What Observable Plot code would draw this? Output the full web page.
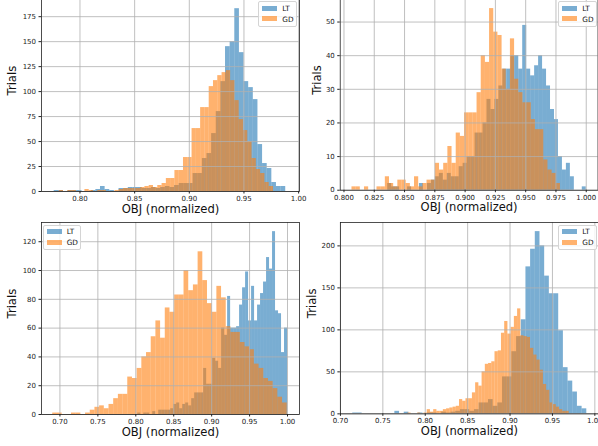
<!DOCTYPE html>
<html>
<head>
<meta charset="utf-8">
<script src="https://cdn.jsdelivr.net/npm/d3@7"></script>
<script src="https://cdn.jsdelivr.net/npm/@observablehq/plot@0.6"></script>
<style>
  body { margin: 0; background: #fff; }
  #fig { position: relative; width: 598px; height: 446px; overflow: hidden; font-family: "DejaVu Sans", sans-serif; }
  .panel { position: absolute; }
  .panel svg { overflow: visible; }
  .legend { position: absolute; box-sizing: border-box; width: 38.5px; height: 25.7px;
            background: rgba(255,255,255,0.8); border: 1px solid #d4d4d4; border-radius: 2px; }
  .legend .sw { position: absolute; left: 3px; width: 15px; height: 5.2px; }
  .legend .lb { position: absolute; left: 23px; font-size: 7.3px; line-height: 7px; color: #111; }
</style>
</head>
<body>
<div id="fig"></div>
<script>
// Series shown in every panel
const seriesNames = ["LT", "GD"];
const seriesColors = ["#1f77b4", "#ff7f0e"];
const xLabel = "OBJ (normalized)";
const yLabel = "Trials";

// Top-left panel: 50-bin histograms
const tlLtRange = [0.7764, 0.9882];
const tlLt = [1,1,0,1,1,1,0,0,1,2, 5,2,1,0,3,3,4,4,4,3, 3,4,3,4,5,4,6,8,8,8,
              18,18,33,38,58,80,110,145,150,183, 139,110,104,92,47,28,23,9,5,5];
const tlGdRange = [0.781, 0.977];
const tlGd = [1,0,1,1,0,0,2,1,0,1, 1,0,0,1,2,3,3,3,3,4, 5,6,4,6,8,13,13,21,21,34,
              34,63,63,84,84,105,111,116,119,121, 111,91,72,61,50,33,22,18,9,5];
const tlXTicks = [0.80, 0.85, 0.90, 0.95, 1.00];
const tlYTicks = [0, 25, 50, 75, 100, 125, 150, 175];

// Top-right panel
const trLtRange = [0.8361, 1.0];
const trLt = [2,1,1,0,0,1,0,0,2,0, 2,3,4,5,3,5,4,4,7,8, 10,10,17,17,20,27,24,27,31,36,
              36,40,40,36,49,36,34,37,40,36, 31,24,21,10,6,8,4,0,0,1];
const trGdRange = [0.8066, 0.9787];
const trGd = [1,1,0,1,0,0,1,1,4,2, 1,3,3,2,1,4,1,2,3,3, 8,6,8,13,8,17,16,23,23,23,
              29,40,38,54,47,46,36,30,45,33, 29,26,26,21,18,18,9,6,5,2];
const trXTicks = [0.800, 0.825, 0.850, 0.875, 0.900, 0.925, 0.950, 0.975, 1.000];
const trYTicks = [0, 10, 20, 30, 40, 50];

// Bottom-left panel
const blLtRange = [0.8026, 1.0];
const blLt = [1,0,1,1,0,2,0,3,3,3, 3,4,7,8,4,7,8,6,11,15, 15,15,32,21,21,39,37,32,60,55,
              82,60,60,61,76,88,99,65,89,65, 76,84,92,109,101,127,72,70,43,60];
const blGdRange = [0.6905, 0.9996];
const blGd = [1,1,0,0,1,1,0,1,3,5, 6,4,7,11,14,14,26,25,32,40, 43,54,65,53,74,71,83,83,100,86,
              90,113,93,77,71,89,81,61,57,57, 50,47,45,35,32,25,23,18,12,8];
const blXTicks = [0.70, 0.75, 0.80, 0.85, 0.90, 0.95, 1.00];
const blYTicks = [0, 20, 40, 60, 80, 100, 120];

// Bottom-right panel
const brLtRange = [0.7145, 0.9905];
const brLt = [1,1,0,0,0,0,0,0,0,3, 0,2,0,0,1,0,1,1,0,2, 1,2,3,5,5,3,5,13,13,17,
              9,13,44,44,74,92,112,175,196,217, 200,164,143,143,99,55,39,26,9,6];
const brGdRange = [0.7795, 0.9698];
const brGd = [1,0,0,1,0,1,5,2,5,3, 3,5,6,7,8,9,17,15,18,18, 25,37,33,50,59,60,62,74,75,96,
              110,95,103,116,125,93,92,91,78,70, 64,52,35,28,13,11,8,5,3,3];
const brXTicks = [0.70, 0.75, 0.80, 0.85, 0.90, 0.95, 1.00];
const brYTicks = [0, 50, 100, 150, 200];

// Panel layout (pixels) and scale settings
const panels = [
  {lt: tlLt, ltRange: tlLtRange, gd: tlGd, gdRange: tlGdRange, xTicks: tlXTicks, yTicks: tlYTicks,
   xDomain: [0.7648, 1.0008], yMax: 192.2, xFormat: ".2f",
   left: 0, top: -1, width: 300, marginLeft: 41, marginRight: 1, yLabelDx: -29,
   legend: {left: 258.3, top: 1}},
  {lt: trLt, ltRange: trLtRange, gd: trGd, gdRange: trGdRange, xTicks: trXTicks, yTicks: trYTicks,
   xDomain: [0.7969, 1.0097], yMax: 56.7, xFormat: ".3f",
   left: 298, top: -1, width: 302, marginLeft: 42, marginRight: 0.5, yLabelDx: -23,
   legend: {left: 558.3, top: 1}},
  {lt: blLt, ltRange: blLtRange, gd: blGd, gdRange: blGdRange, xTicks: blXTicks, yTicks: blYTicks,
   xDomain: [0.6757, 1.0158], yMax: 133.35, xFormat: ".2f",
   left: 0, top: 222, width: 300, marginLeft: 41, marginRight: 1, yLabelDx: -29,
   legend: {left: 42.7, top: 224.7}},
  {lt: brLt, ltRange: brLtRange, gd: brGd, gdRange: brGdRange, xTicks: brXTicks, yTicks: brYTicks,
   xDomain: [0.6999, 1.0043], yMax: 227.85, xFormat: ".2f",
   left: 298, top: 222, width: 301, marginLeft: 42, marginRight: 0, yLabelDx: -28,
   legend: {left: 558.3, top: 224.7}}
];

// Equal-width bins spanning a series' [min, max]
function toBins(counts, [lo, hi]) {
  const w = (hi - lo) / counts.length;
  return counts.map((c, i) => ({x1: lo + i * w, x2: lo + (i + 1) * w, y1: 0, y2: c}));
}

const fig = document.getElementById("fig");
const plotHeight = 192;

for (const p of panels) {
  const inX = p.xTicks.filter(t => t >= p.xDomain[0] - 1e-9 && t <= p.xDomain[1] + 1e-9);
  const chart = Plot.plot({
    width: p.width,
    height: plotHeight + 34,
    marginLeft: p.marginLeft,
    marginRight: p.marginRight,
    marginTop: 0,
    marginBottom: 34,
    x: {domain: p.xDomain},
    y: {domain: [0, p.yMax]},
    style: {fontFamily: '"DejaVu Sans", sans-serif', background: "transparent", overflow: "visible"},
    marks: [
      Plot.rect(toBins(p.lt, p.ltRange), {x1: "x1", x2: "x2", y1: "y1", y2: "y2",
        fill: seriesColors[0], fillOpacity: 0.6}),
      Plot.rect(toBins(p.gd, p.gdRange), {x1: "x1", x2: "x2", y1: "y1", y2: "y2",
        fill: seriesColors[1], fillOpacity: 0.6}),
      Plot.ruleX(inX, {stroke: "#b0b0b0", strokeWidth: 0.8}),
      Plot.ruleY(p.yTicks, {stroke: "#b0b0b0", strokeWidth: 0.8}),
      Plot.frame({stroke: "#222", strokeWidth: 0.8}),
      Plot.axisX(inX, {tickSize: 2.5, tickPadding: 2, fontSize: 7, color: "#222",
        tickFormat: d3.format(p.xFormat), label: null}),
      Plot.axisY(p.yTicks, {tickSize: 2.5, tickPadding: 3, fontSize: 7, color: "#222", label: null}),
      Plot.text([xLabel], {text: d => d, frameAnchor: "bottom", dy: 21, fontSize: 11.6, fill: "#111"}),
      Plot.text([yLabel], {text: d => d, frameAnchor: "left", dx: p.yLabelDx, rotate: -90,
        fontSize: 11.6, fill: "#111"})
    ]
  });
  const holder = document.createElement("div");
  holder.className = "panel";
  holder.style.left = p.left + "px";
  holder.style.top = p.top + "px";
  holder.appendChild(chart);
  fig.appendChild(holder);

  // Legend box
  const box = document.createElement("div");
  box.className = "legend";
  box.style.left = p.legend.left + "px";
  box.style.top = p.legend.top + "px";
  seriesNames.forEach((name, i) => {
    const sw = document.createElement("div");
    sw.className = "sw";
    sw.style.top = (3.6 + i * 10.7) + "px";
    sw.style.background = seriesColors[i];
    sw.style.opacity = 0.6;
    const lb = document.createElement("div");
    lb.className = "lb";
    lb.style.top = (2.8 + i * 10.7) + "px";
    lb.textContent = name;
    box.appendChild(sw);
    box.appendChild(lb);
  });
  fig.appendChild(box);
}
</script>
</body>
</html>
